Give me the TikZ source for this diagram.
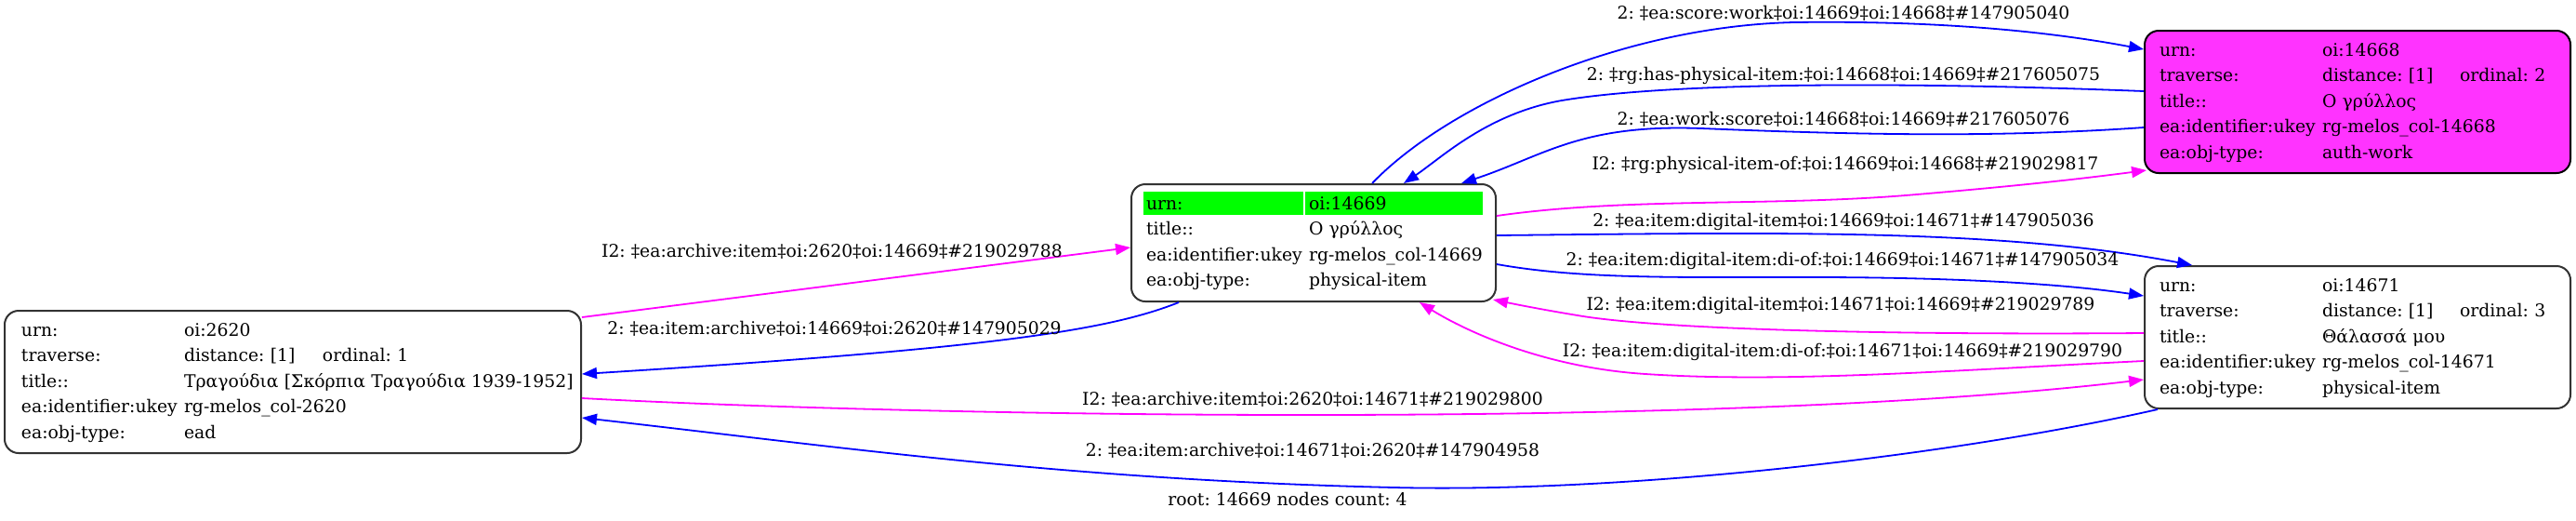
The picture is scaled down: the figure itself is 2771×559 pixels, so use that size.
\documentclass[tikz,border=0pt]{standalone}
\usepackage{fontspec}
\setmainfont{DejaVu Serif}
\usetikzlibrary{arrows.meta,backgrounds}
\definecolor{authpink}{RGB}{255,51,255}
\definecolor{edgemag}{RGB}{255,0,255}
\definecolor{edgeblue}{RGB}{0,0,255}
\definecolor{rootgreen}{RGB}{0,255,0}
\frenchspacing
\begin{document}
\begin{tikzpicture}[x=0.5pt,y=-0.5pt,
		rec/.style={shape=rectangle, rounded corners=7.5pt, draw=black!80, line width=1pt, align=left, inner ysep=0pt, font=\fontsize{9.4}{13.75}\selectfont},
		lbl/.style={font=\fontsize{9.4}{11}\selectfont, inner sep=0pt},
		bl/.style={draw=edgeblue, line width=0.9pt, -{Triangle[length=8pt,width=6pt]}},
		mg/.style={draw=edgemag, line width=0.9pt, -{Triangle[length=8pt,width=6pt]}}]
		\useasboundingbox (0,0) rectangle (2771,559);
		\node (n2620) at (315,410.5) [rec, minimum height=76.5pt, text width=292pt, inner xsep=9pt] {\begin{tabular}{@{}p{87.5pt}@{}l@{}}
				urn: & oi:2620\\
				traverse: & \makebox[74.5pt][l]{distance: [1]}ordinal: 1\\
				title:: & Τραγούδια [Σκόρπια Τραγούδια 1939-1952]\\
				ea:identifier:ukey & rg-melos\_col-2620\\
				ea:obj-type: & ead\end{tabular}};
		\node (n14669) at (1413,261) [rec, minimum height=63pt, text width=180pt, inner xsep=8pt] {\begin{tabular}{@{}p{87.5pt}@{}l@{}}
				urn: & oi:14669\\
				title:: & Ο γρύλλος\\
				ea:identifier:ukey & rg-melos\_col-14669\\
				ea:obj-type: & physical-item\end{tabular}};
		\node (n14668) at (2536,109.5) [rec, fill=authpink, draw=black, minimum height=76.5pt, text width=213pt, inner xsep=8pt] {\begin{tabular}{@{}p{87.5pt}@{}l@{}}
				urn: & oi:14668\\
				traverse: & \makebox[74pt][l]{distance: [1]}ordinal: 2\\
				title:: & Ο γρύλλος\\
				ea:identifier:ukey & rg-melos\_col-14668\\
				ea:obj-type: & auth-work\end{tabular}};
		\node (n14671) at (2536,362.5) [rec, minimum height=76.5pt, text width=213pt, inner xsep=8pt] {\begin{tabular}{@{}p{87.5pt}@{}l@{}}
				urn: & oi:14671\\
				traverse: & \makebox[74pt][l]{distance: [1]}ordinal: 3\\
				title:: & Θάλασσά μου\\
				ea:identifier:ukey & rg-melos\_col-14671\\
				ea:obj-type: & physical-item\end{tabular}};
		\begin{scope}[on background layer]
			\fill[rootgreen] ([shift={(14,9)}]n14669.north west) rectangle ([shift={(186,34)}]n14669.north west);
			\fill[rootgreen] ([shift={(188,9)}]n14669.north west) rectangle ([shift={(379,34)}]n14669.north west);
		\end{scope}
		\draw[mg] ([shift={(0,-69.5)}]n2620.east) -- ([shift={(0,5)}]n14669.west);
		\draw[bl] ([shift={(-145,0)}]n14669.south) .. controls (1190,356) and (1060,375) .. ([shift={(0,-8.5)}]n2620.east);
		\draw[mg] ([shift={(0,17.5)}]n2620.east) .. controls (1000,448) and (1850,462) .. ([shift={(0,45.5)}]n14671.west);
		\draw[bl] ([shift={(15,0)}]n14671.south west) .. controls (2100,490) and (1750,530) .. (1500,524) .. controls (1150,516) and (900,480) .. ([shift={(0,38.5)}]n2620.east);
		\draw[bl] ([shift={(63,0)}]n14669.north) .. controls (1560,110) and (1750,28) .. (1930,24) .. controls (2080,22) and (2200,33) .. ([shift={(0,-56.5)}]n14668.west);
		\draw[bl] ([shift={(0,-11.5)}]n14668.west) .. controls (2050,88) and (1800,88) .. (1680,108) .. controls (1600,122) and (1550,170) .. ([shift={(97,0)}]n14669.north);
		\draw[bl] ([shift={(0,27.5)}]n14668.west) .. controls (2150,148) and (2000,145) .. (1830,138) .. controls (1700,133) and (1660,168) .. ([shift={(159,0)}]n14669.north);
		\draw[mg] ([shift={(0,-29)}]n14669.east) .. controls (1750,212) and (1900,222) .. (2050,210) .. controls (2170,200) and (2240,192) .. ([shift={(3,-4)}]n14668.south west);
		\draw[bl] ([shift={(0,-8)}]n14669.east) .. controls (1900,250) and (2150,245) .. ([shift={(-178,0)}]n14671.north);
		\draw[bl] ([shift={(0,23)}]n14669.east) .. controls (1700,300) and (1800,298) .. (1950,298) .. controls (2100,298) and (2220,305) .. ([shift={(0,-44.5)}]n14671.west);
		\draw[mg] ([shift={(0,-4.5)}]n14671.west) .. controls (2050,360) and (1800,355) .. (1703,340) .. controls (1660,333) and (1630,327) .. ([shift={(-4,-3)}]n14669.south east);
		\draw[mg] ([shift={(0,25.5)}]n14671.west) .. controls (2100,398) and (1920,412) .. (1770,402) .. controls (1660,395) and (1575,355) .. ([shift={(114,0)}]n14669.south);
		\node (l1) at (895,270) [lbl] {I2: ‡ea:archive:item‡oi:2620‡oi:14669‡\#219029788};
		\node (l2) at (653,353) [lbl, anchor=west] {2: ‡ea:item:archive‡oi:14669‡oi:2620‡\#147905029};
		\node (l3) at (1412,429) [lbl] {I2: ‡ea:archive:item‡oi:2620‡oi:14671‡\#219029800};
		\node (l4) at (1412,484) [lbl] {2: ‡ea:item:archive‡oi:14671‡oi:2620‡\#147904958};
		\node (l5) at (1983,14) [lbl] {2: ‡ea:score:work‡oi:14669‡oi:14668‡\#147905040};
		\node (l6) at (1983,81) [lbl] {2: ‡rg:has-physical-item:‡oi:14668‡oi:14669‡\#217605075};
		\node (l7) at (1983,128) [lbl] {2: ‡ea:work:score‡oi:14668‡oi:14669‡\#217605076};
		\node (l8) at (1985,177) [lbl] {I2: ‡rg:physical-item-of:‡oi:14669‡oi:14668‡\#219029817};
		\node (l9) at (1983,238) [lbl] {2: ‡ea:item:digital-item‡oi:14669‡oi:14671‡\#147905036};
		\node (l10) at (1982,280) [lbl] {2: ‡ea:item:digital-item:di-of:‡oi:14669‡oi:14671‡\#147905034};
		\node (l11) at (1980,328) [lbl] {I2: ‡ea:item:digital-item‡oi:14671‡oi:14669‡\#219029789};
		\node (l12) at (1982,378) [lbl] {I2: ‡ea:item:digital-item:di-of:‡oi:14671‡oi:14669‡\#219029790};
		\node (root) at (1385,536) [lbl] {root: 14669 nodes count: 4};
\end{tikzpicture}
\end{document}
